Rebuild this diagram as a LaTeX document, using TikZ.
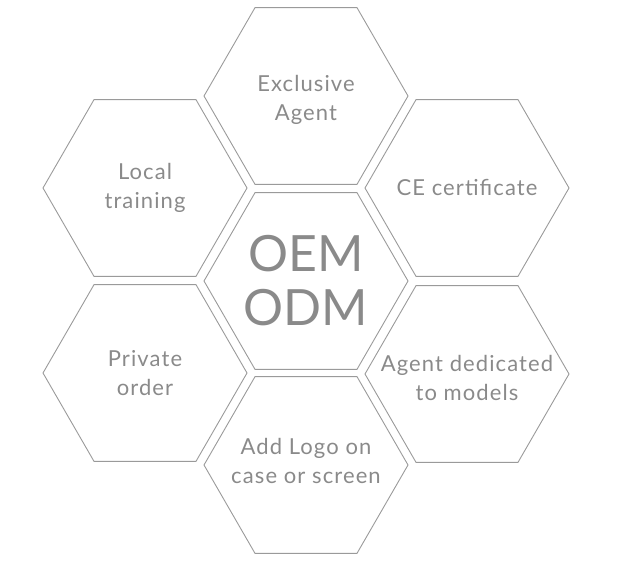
\documentclass[tikz,border=0pt]{standalone}
\usepackage{fontspec}
\setmainfont{Lato}
\newfontfamily\cellfont[LetterSpace=5]{Lato}
\usetikzlibrary{shapes.geometric}

\definecolor{hexline}{HTML}{9A9A9A}
\definecolor{hextext}{HTML}{8A8A8A}

\tikzset{
  hexcell/.style={draw=hexline, line width=0.9pt, regular polygon, regular polygon sides=6,
    minimum size=204pt, inner sep=0pt},
  celltext/.style={text=hextext, align=center, inner sep=0pt,
    font=\cellfont\fontsize{22}{29}\selectfont},
  coretext/.style={celltext, font=\fontsize{50}{54}\selectfont}
}

\begin{document}
\begin{tikzpicture}[x=1pt,y=-1pt]
\useasboundingbox (0,0) rectangle (627,575);
% centre cell
\node[hexcell, label={[coretext]center:OEM\\ODM}] (core) at (306,281) {};
% ring of cells
\node[hexcell, label={[celltext, yshift=-4pt]center:Exclusive\\Agent}] (agent) at (306,96) {};
\node[hexcell, label={[celltext]center:Local\\training}] (training) at (145,188) {};
\node[hexcell, label={[celltext, yshift=1pt]center:CE certificate}] (ce) at (467,188) {};
\node[hexcell, label={[celltext]center:Private\\order}] (private) at (145,373) {};
\node[hexcell, label={[celltext, yshift=-4pt]center:Agent dedicated\\to models}] (models) at (467,374) {};
\node[hexcell, label={[celltext, yshift=4pt]center:Add Logo on\\case or screen}] (logo) at (306,465) {};
\end{tikzpicture}
\end{document}
